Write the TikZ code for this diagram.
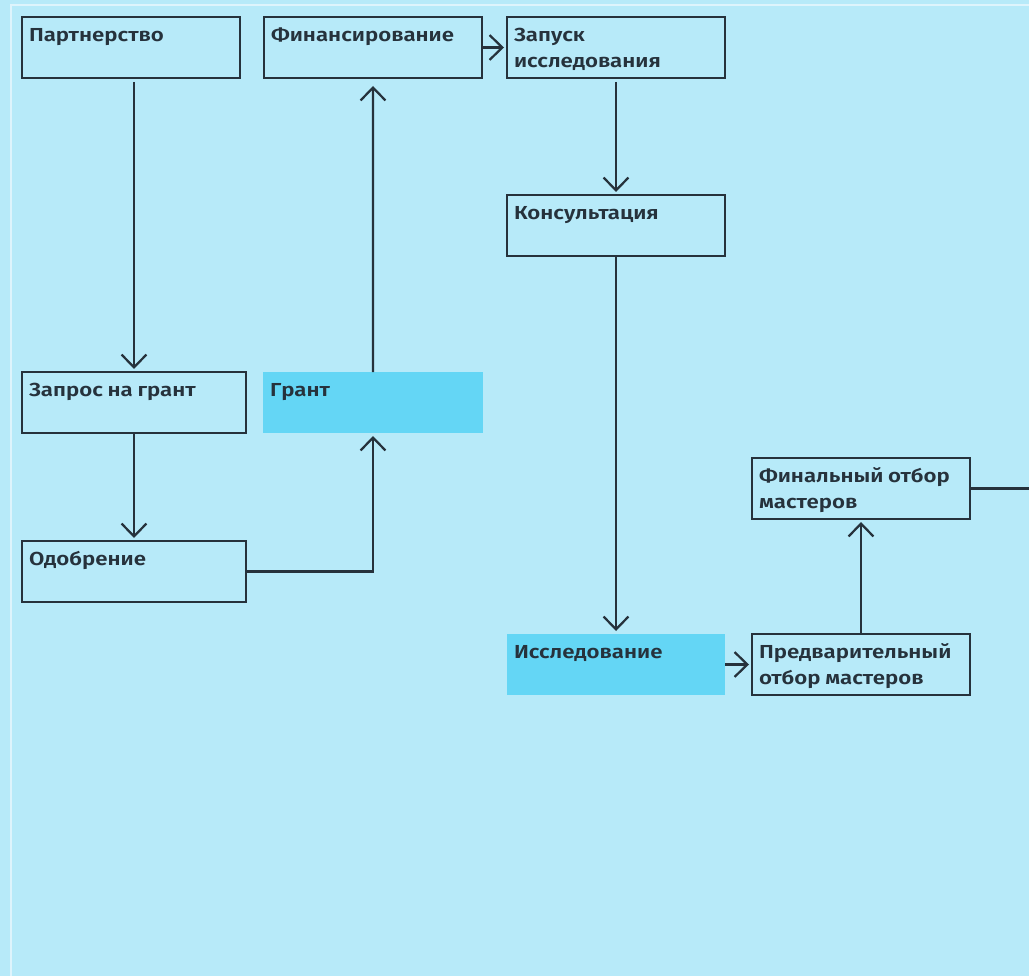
\documentclass[tikz,border=0pt]{standalone}
\usepackage{fontspec}
\setmainfont{Fira Sans}[UprightFont={* SemiBold}, FakeStretch=1.18]
\usepackage{tikz}
\usetikzlibrary{positioning, arrows.meta}
\definecolor{fcBack}{RGB}{183,234,249}
\definecolor{fcFrame}{RGB}{222,244,252}
\definecolor{fcLine}{RGB}{38,50,60}
\definecolor{fcHigh}{RGB}{100,214,245}
\newcommand{\boxtxt}[1]{\parbox[c][1.525cm][t]{\linewidth}{\fontsize{13.4}{18.6}\selectfont\rule{0pt}{17.4pt}#1}}

\begin{document}
\begin{tikzpicture}[
  box/.style={draw=fcLine, line width=1.6pt, inner xsep=0.175cm, inner ysep=0pt, outer sep=0pt, text width=#1, align=left, text=fcLine},
  box/.default=5.1cm,
  hl/.style={box=#1, draw=none, fill=fcHigh},
  hl/.default=5.1cm,
  flow/.style={draw=fcLine, line width=1.6pt, -{Straight Barb[length=0.32cm, width=0.62cm, line width=1.6pt]}, shorten >=0.075cm},
  link/.style={draw=fcLine, line width=1.6pt}
]
  \useasboundingbox[fill=fcBack] (0,0) rectangle (25.725,-24.4);
  \draw[fcFrame, line width=0.07cm] (0.275,-24.4) -- (0.275,-0.125) -- (25.725,-0.125);
  \coordinate (rightEdge) at (25.725,0);

  \node[box, anchor=north west] at (0.55,-0.425) (partner) {\boxtxt{Партнерство}};
  \node[box, right=0.6cm of partner] (fin) {\boxtxt{Финансирование}};
  \node[box, right=0.625cm of fin] (zapusk) {\boxtxt{Запуск\\исследования}};
  \node[box, below=2.925cm of zapusk] (konsult) {\boxtxt{Консультация}};
  \node[hl, below=9.45cm of konsult] (issled) {\boxtxt{Исследование}};
  \node[box, right=0.675cm of issled] (pred) {\boxtxt{Предварительный\\отбор мастеров}};
  \node[box, above=2.875cm of pred] (final) {\boxtxt{Финальный отбор\\мастеров}};

  \node[box=5.25cm, below=7.35cm of partner.south west, anchor=north west] (zapros) {\boxtxt{Запрос на грант}};
  \node[box=5.25cm, below=2.7cm of zapros] (odobr) {\boxtxt{Одобрение}};
  \node[hl=5.15cm, right=0.425cm of zapros] (grant) {\boxtxt{Грант}};

  \draw[flow, shorten <=0.1cm] (partner.south -| zapros.north) -- (zapros.north);
  \draw[flow] (zapros) -- (odobr);
  \draw[flow] (odobr.east) -| (grant.south);
  \draw[flow, shorten >=0.2cm] (grant) -- (fin);
  \draw[flow] (fin) -- (zapusk);
  \draw[flow, shorten <=0.1cm] (zapusk) -- (konsult);
  \draw[flow] (konsult) -- (issled);
  \draw[flow] (issled) -- (pred);
  \draw[flow] (pred) -- (final);
  \draw[link] (final.east) -- (final.east -| rightEdge);
\end{tikzpicture}
\end{document}
